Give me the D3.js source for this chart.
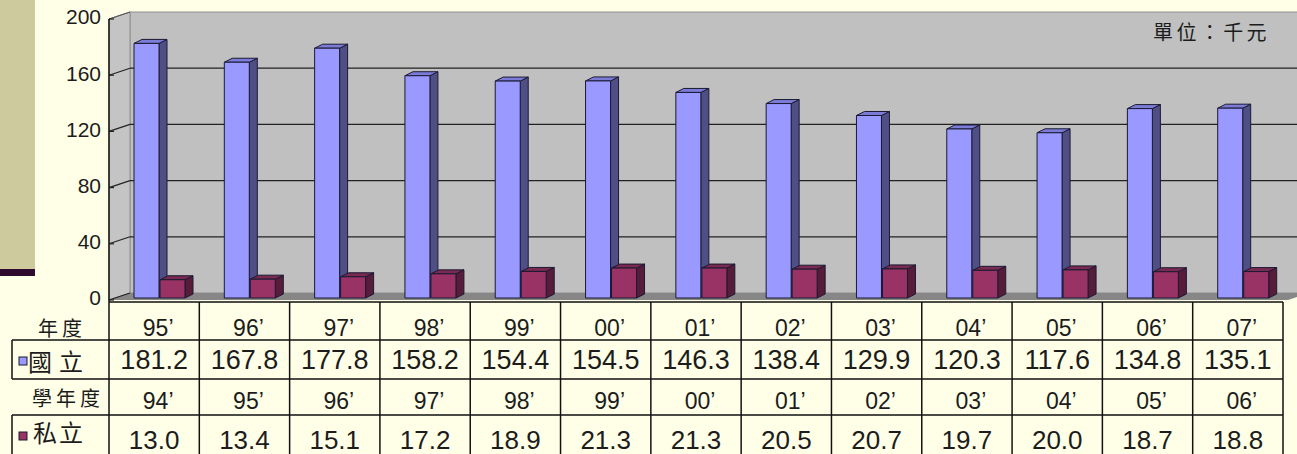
<!DOCTYPE html>
<html><head><meta charset="utf-8">
<script src="https://cdn.jsdelivr.net/npm/d3@7"></script>
<style>html,body{margin:0;padding:0;background:#ffffe8;overflow:hidden}svg{display:block}</style>
</head><body><svg id="c" width="1297" height="454"></svg>
<script>
// ---- data ----
const years = ["95’","96’","97’","98’","99’","00’","01’","02’","03’","04’","05’","06’","07’"];
const schoolYears = ["94’","95’","96’","97’","98’","99’","00’","01’","02’","03’","04’","05’","06’"];
const national = [181.2,167.8,177.8,158.2,154.4,154.5,146.3,138.4,129.9,120.3,117.6,134.8,135.1];
const privateVals = [13.0,13.4,15.1,17.2,18.9,21.3,21.3,20.5,20.7,19.7,20.0,18.7,18.8];
const yTicks = [0,40,80,120,160,200];
const rowLabels = ["年度","國立","學年度","私立"];
const unitLabel = "單位：千元";

// ---- layout ----
const W = 1297, H = 454;
const svg = d3.select("#c");
const x0 = 109, x1 = 1283;
const DX = 21, DY = -7;
const x = d3.scaleBand().domain(d3.range(years.length)).range([x0, x1]);
const yFront = d3.scaleLinear().domain([0, 200]).range([300, 19]);
const yBack = d3.scaleLinear().domain([0, 200]).range([300 + DY, 19 + DY]);
const yBar = d3.scaleLinear().domain([0, 200]).range([298, 17]);
const numFont = "'Liberation Sans', Arial, sans-serif";
const cjkFont = "'Noto Sans CJK TC', 'Noto Sans CJK SC', sans-serif";
const ink = "#1c1c1c";

svg.append("rect").attr("width", W).attr("height", H).attr("fill", "#ffffe8");
// slide decoration
svg.append("rect").attr("x", 0).attr("y", 0).attr("width", 35).attr("height", 269).attr("fill", "#cdcb9d");
svg.append("rect").attr("x", 0).attr("y", 269).attr("width", 35).attr("height", 7).attr("fill", "#2e0a2e");

// walls
const g = svg.append("g");
g.append("rect").attr("x", x0 + DX).attr("y", yBack(200)).attr("width", W - x0 - DX + 5)
  .attr("height", yBack(0) - yBack(200)).attr("fill", "#c0c0c0").attr("stroke", "#8f8f8f").attr("stroke-width", 1);
g.append("polygon").attr("points", [[x0, yFront(200)], [x0 + DX, yBack(200)], [x0 + DX, yBack(0)], [x0, yFront(0)]].join(" "))
  .attr("fill", "#c4c4c4").attr("stroke", "#8f8f8f").attr("stroke-width", 1);
g.append("polygon").attr("points", [[x0, yFront(0)], [x0 + DX, yBack(0)], [x1 + DX + 5, yBack(0)], [x1 + 5, yFront(0)]].join(" "))
  .attr("fill", "#878787");

// gridlines on back wall and side wall
yTicks.filter(v => v > 0 && v < 200).forEach(v => {
  g.append("line").attr("x1", x0 + DX).attr("x2", W).attr("y1", yBack(v)).attr("y2", yBack(v))
    .attr("stroke", "#222").attr("stroke-width", 1.2);
});
yTicks.forEach(v => {
  g.append("line").attr("x1", x0).attr("y1", yFront(v)).attr("x2", x0 + DX).attr("y2", yBack(v))
    .attr("stroke", v === 200 ? "#555" : "#222").attr("stroke-width", 1.2);
  g.append("line").attr("x1", x0).attr("y1", yFront(v)).attr("x2", x0 + 5).attr("y2", yFront(v))
    .attr("stroke", "#222").attr("stroke-width", 1.2);
});
// axis line
g.append("line").attr("x1", x0).attr("x2", x0).attr("y1", yFront(200)).attr("y2", 302)
  .attr("stroke", "#111").attr("stroke-width", 1.5);
// axis labels
yTicks.forEach(v => {
  svg.append("text").attr("x", 101).attr("y", yFront(v) - 2).attr("dy", "0.35em")
    .attr("text-anchor", "end").attr("font-family", numFont).attr("font-size", 21)
    .attr("fill", ink).text(v);
});

// bars
const bw = 25, bdx = 8, bdy = -4;
function bar(fx, v, cFront, cSide, cTop) {
  const top = yBar(v), bot = yBar(0);
  const b = svg.append("g").attr("stroke", "#1a1a33").attr("stroke-width", 1).attr("stroke-linejoin", "round");
  b.append("polygon").attr("points", [[fx + bw, top], [fx + bw + bdx, top + bdy], [fx + bw + bdx, bot + bdy], [fx + bw, bot]].join(" ")).attr("fill", cSide);
  b.append("polygon").attr("points", [[fx, top], [fx + bdx, top + bdy], [fx + bw + bdx, top + bdy], [fx + bw, top]].join(" ")).attr("fill", cTop);
  b.append("rect").attr("x", fx).attr("y", top).attr("width", bw).attr("height", bot - top).attr("fill", cFront);
}
years.forEach((d, i) => {
  bar(x(i) + 25, national[i], "#9999ff", "#4f4f86", "#7c7cd8");
  bar(x(i) + 51, privateVals[i], "#993366", "#561c3a", "#7a2950");
});

// unit label
svg.append("text").attr("x", 1153).attr("y", 40).attr("font-family", cjkFont).attr("font-size", 20)
  .attr("letter-spacing", 3.4).attr("fill", ink).text(unitLabel);

// ---- data table ----
const tl = svg.append("g").attr("stroke", "#111").attr("stroke-width", 1.5);
const rowY = [302, 340, 379, 415, 454];
tl.append("line").attr("x1", x0).attr("x2", x1).attr("y1", rowY[0]).attr("y2", rowY[0]);
[1, 2, 3].forEach(r => tl.append("line").attr("x1", 12).attr("x2", x1).attr("y1", rowY[r]).attr("y2", rowY[r]));
d3.range(years.length + 1).forEach(i => {
  const xx = i < years.length ? x(i) : x1;
  tl.append("line").attr("x1", xx).attr("x2", xx).attr("y1", rowY[0]).attr("y2", H);
});
tl.append("line").attr("x1", 12).attr("x2", 12).attr("y1", rowY[1]).attr("y2", rowY[2]);
tl.append("line").attr("x1", 12).attr("x2", 12).attr("y1", rowY[3]).attr("y2", rowY[4]);

// row labels
const labelSpec = [
  {x: 38, y: 336, size: 20, ls: 4},
  {x: 28, y: 371, size: 24, ls: 7},
  {x: 32, y: 406, size: 20, ls: 4},
  {x: 33, y: 442, size: 24, ls: 2}
];
rowLabels.forEach((t, r) => {
  const s = labelSpec[r];
  svg.append("text").attr("x", s.x).attr("y", s.y).attr("font-family", cjkFont).attr("font-size", s.size)
    .attr("letter-spacing", s.ls).attr("fill", ink).text(t);
});
svg.append("rect").attr("x", 19).attr("y", 357).attr("width", 8).attr("height", 8)
  .attr("fill", "#9999ff").attr("stroke", "#1a1a33").attr("stroke-width", 1);
svg.append("rect").attr("x", 19).attr("y", 432).attr("width", 8).attr("height", 8)
  .attr("fill", "#993366").attr("stroke", "#1a1a33").attr("stroke-width", 1);

function yearText(arr, baseline) {
  arr.forEach((t, i) => {
    svg.append("text").attr("x", x(i) + x.bandwidth() / 2 + 4).attr("y", baseline)
      .attr("text-anchor", "middle").style("font-family", numFont).style("font-size", "23px")
      .attr("fill", ink).text(t);
  });
}
yearText(years, 336);
yearText(schoolYears, 409);
national.forEach((v, i) => {
  svg.append("text").attr("x", x(i) + x.bandwidth() / 2).attr("y", 369).attr("text-anchor", "middle")
    .attr("font-family", numFont).attr("font-size", 27).attr("fill", ink).text(v.toFixed(1));
});
privateVals.forEach((v, i) => {
  svg.append("text").attr("x", x(i) + x.bandwidth() / 2).attr("y", 449).attr("text-anchor", "middle")
    .attr("font-family", numFont).attr("font-size", 26).attr("fill", ink).text(v.toFixed(1));
});
</script></body></html>
